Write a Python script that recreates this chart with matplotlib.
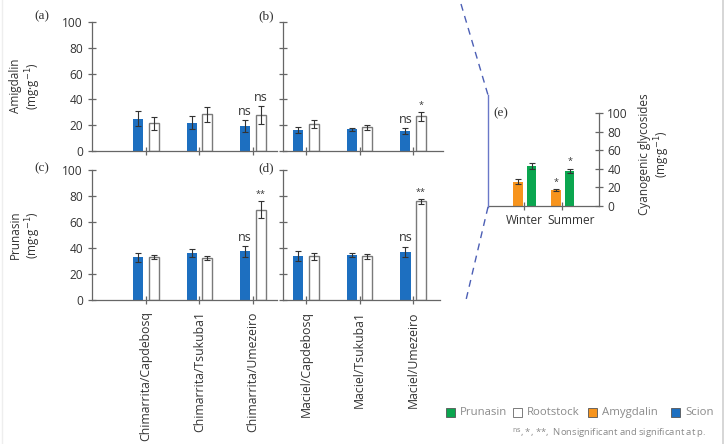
import matplotlib
matplotlib.use("Agg")
import matplotlib.pyplot as plt
from matplotlib.lines import Line2D
from matplotlib.patches import Rectangle
import matplotlib.transforms as mtransforms
import numpy as np

plt.rcParams['font.family'] = ['Open Sans', 'DejaVu Sans']

# ---------------- data ----------------
chim_labels = ["Chimarrita/Capdebosq", "Chimarrita/Tsukuba1", "Chimarrita/Umezeiro"]
mac_labels = ["Maciel/Capdebosq", "Maciel/Tsukuba1", "Maciel/Umezeiro"]

# (a) Amygdalin, Chimarrita
a_scion = [25, 22, 19.3]
a_scion_err = [6, 5, 4.5]
a_root = [21.4, 28.4, 27.8]
a_root_err = [5, 6, 7]
# (b) Amygdalin, Maciel
b_scion = [16.2, 16.8, 15.5]
b_scion_err = [2.5, 1, 2]
b_root = [20.9, 18.5, 27]
b_root_err = [3, 2, 3.5]
# (c) Prunasin, Chimarrita
c_scion = [33, 36, 37.4]
c_scion_err = [3.5, 3, 4]
c_root = [33.2, 32, 69.6]
c_root_err = [1.5, 1.5, 6.5]
# (d) Prunasin, Maciel
d_scion = [33.8, 34.9, 37]
d_scion_err = [4, 1.5, 4]
d_root = [33.6, 33.6, 76]
d_root_err = [2.5, 2, 2]
# significance marks on third pair: (scion mark, rootstock mark)
a_marks = ["ns", "ns"]
b_marks = ["ns", "*"]
c_marks = ["ns", "**"]
d_marks = ["ns", "**"]

# (e) seasons
seasons = ["Winter", "Summer"]
e_amyg = [26, 17]
e_amyg_err = [2.5, 1]
e_prun = [43, 38]
e_prun_err = [3, 2]
e_amyg_marks = ["", "*"]
e_prun_marks = ["", "*"]

yticks = [0, 20, 40, 60, 80, 100]

# ---------------- style ----------------
BLUE = "#1d6fc0"
ORANGE = "#f7941d"
GREEN = "#0ba64f"
SPINE = "#666666"
ERR = "#333333"
TXT = "#333333"
TICKFS = 8.6

W, H = 725, 444
fig = plt.figure(figsize=(W / 100, H / 100), dpi=100)
fig.patch.set_facecolor("white")


def fx(px):
    return px / W


def fy(py):
    return 1 - py / H


def make_ax(left, right, top, bottom):
    return fig.add_axes([fx(left), fy(bottom), fx(right - left), (bottom - top) / H])


def style_ax(ax, show_ylabels):
    for s in ["top", "right"]:
        ax.spines[s].set_visible(False)
    for s in ["left", "bottom"]:
        ax.spines[s].set_color(SPINE)
        ax.spines[s].set_linewidth(0.9)
    ax.set_ylim(0, 100)
    ax.set_yticks(yticks)
    ax.tick_params(axis="both", direction="inout", length=6, width=0.9,
                   color=SPINE, labelsize=TICKFS, labelcolor=TXT)
    if not show_ylabels:
        ax.set_yticklabels([])
    ax.set_xticks([0, 1, 2])
    ax.set_facecolor("none")


def draw_pair(ax, scion, scion_err, root, root_err, marks):
    x = np.arange(len(scion))
    off, w = 0.145, 0.19
    ekw = dict(ecolor=ERR, elinewidth=0.8, capsize=2.4, capthick=0.8)
    ax.bar(x - off, scion, w, color=BLUE, yerr=scion_err, error_kw=ekw, zorder=2)
    ax.bar(x + off, root, w, color="white", edgecolor="#7a7a7a", linewidth=1.0,
           yerr=root_err, error_kw=ekw, zorder=2)
    for xi, val, err, m in [(x[2] - off, scion[2], scion_err[2], marks[0]),
                            (x[2] + off, root[2], root_err[2], marks[1])]:
        if m == "ns":
            ax.text(xi, val + err + 2, m, ha="center", va="bottom", fontsize=9, color=TXT)
        else:
            ax.text(xi, val + err + 1.5, m, ha="center", va="bottom", fontsize=6.5, color=TXT)


# panel positions in pixels
axA = make_ax(92, 277, 22, 151)
axB = make_ax(283, 443, 22, 151)
axC = make_ax(92, 277, 170, 300)
axD = make_ax(283, 440, 170, 300)

for ax, show in [(axA, True), (axB, False), (axC, True), (axD, False)]:
    style_ax(ax, show)

draw_pair(axA, a_scion, a_scion_err, a_root, a_root_err, a_marks)
draw_pair(axB, b_scion, b_scion_err, b_root, b_root_err, b_marks)
draw_pair(axC, c_scion, c_scion_err, c_root, c_root_err, c_marks)
draw_pair(axD, d_scion, d_scion_err, d_root, d_root_err, d_marks)

axA.set_xlim(-1.01, 2.45)
axC.set_xlim(-1.01, 2.45)
axB.set_xlim(-0.43, 2.56)
axD.set_xlim(-0.43, 2.5)

axA.set_xticklabels([])
axB.set_xticklabels([])
axC.set_xticklabels(chim_labels, rotation=90, fontsize=8.8)
axD.set_xticklabels(mac_labels, rotation=90, fontsize=8.8)
for ax in (axC, axD):
    ax.tick_params(axis="x", pad=5)

fig.text(fx(26), fy(86), "Amigdalin\n(mg·g$^{-1}$)", rotation=90, ha="center", va="center",
         fontsize=8.5, color=TXT, linespacing=1.1)
fig.text(fx(26), fy(235), "Prunasin\n(mg·g$^{-1}$)", rotation=90, ha="center", va="center",
         fontsize=8.5, color=TXT, linespacing=1.1)

serif = ["Liberation Serif", "DejaVu Serif"]
for lbl, (px, py) in {"(a)": (42, 16), "(b)": (266, 16), "(c)": (42, 168), "(d)": (266, 168),
                      "(e)": (501, 113)}.items():
    fig.text(fx(px), fy(py), lbl, ha="center", va="center", fontsize=9.5,
             family=serif, color=TXT)

# ---------------- panel (e) ----------------
axE = make_ax(488, 599, 113, 206)
axE.set_facecolor("none")
for s in ["top", "left"]:
    axE.spines[s].set_visible(False)
for s in ["right", "bottom"]:
    axE.spines[s].set_color(SPINE)
    axE.spines[s].set_linewidth(0.9)
axE.yaxis.tick_right()
xe = np.arange(len(seasons))
ekw = dict(ecolor=ERR, elinewidth=0.8, capsize=2.0, capthick=0.8)
axE.bar(xe - 0.17, e_amyg, 0.26, color=ORANGE, yerr=e_amyg_err, error_kw=ekw, zorder=2)
axE.bar(xe + 0.2, e_prun, 0.25, color=GREEN, yerr=e_prun_err, error_kw=ekw, zorder=2)
for i in range(len(seasons)):
    if e_amyg_marks[i]:
        axE.text(xe[i] - 0.17, e_amyg[i] + e_amyg_err[i] + 3, e_amyg_marks[i],
                 ha="center", va="bottom", fontsize=6.5, color=TXT)
    if e_prun_marks[i]:
        axE.text(xe[i] + 0.2, e_prun[i] + e_prun_err[i] + 3, e_prun_marks[i],
                 ha="center", va="bottom", fontsize=6.5, color=TXT)
axE.set_ylim(0, 100)
axE.set_xlim(-0.95, 1.97)
axE.set_yticks(yticks)
axE.set_xticks(xe)
axE.set_xticklabels(seasons)
axE.tick_params(axis="both", direction="inout", length=6, width=0.9, color=SPINE,
                labelsize=TICKFS, labelcolor=TXT)
axE.tick_params(axis="x", labelsize=8.6, pad=3)
axE.tick_params(axis="y", pad=3)
# shift Summer label slightly to the right, as in the reference
summer_lbl = axE.get_xticklabels()[1]
summer_lbl.set_transform(summer_lbl.get_transform() +
                         mtransforms.ScaledTranslation(9 / 100, 0, fig.dpi_scale_trans))
fig.text(fx(655), fy(154), "Cyanogenic glycosides\n(mg·g$^{-1}$)", rotation=90,
         ha="center", va="center", fontsize=8.5, color=TXT, linespacing=1.1)

# connector lines
DASH = "#4c5fb5"
fig.add_artist(Line2D([fx(461), fx(488)], [fy(4), fy(95)], color=DASH, lw=1.0,
                      ls=(0, (5, 4)), transform=fig.transFigure))
fig.add_artist(Line2D([fx(488), fx(488)], [fy(95), fy(207)], color="#6a78c8", lw=1.0,
                      transform=fig.transFigure))
fig.add_artist(Line2D([fx(488), fx(466)], [fy(207), fy(300)], color=DASH, lw=1.0,
                      ls=(0, (5, 4)), transform=fig.transFigure))

# border lines
fig.add_artist(Line2D([fx(722.5), fx(722.5)], [0, 1], color="#cfcfcf", lw=1.2,
                      transform=fig.transFigure))
fig.add_artist(Line2D([fx(1.5), fx(1.5)], [0, 1], color="#eeeeee", lw=1.0,
                      transform=fig.transFigure))

# ---------------- legend ----------------
legend_items = [("Prunasin", GREEN, 446),
                ("Rootstock", "white", 513),
                ("Amygdalin", ORANGE, 588),
                ("Scion", BLUE, 671)]
LG = "#8a8a8a"
for name, fc, px in legend_items:
    fig.add_artist(Rectangle((fx(px), fy(416.5)), fx(9), 9 / H, facecolor=fc,
                             edgecolor="#666666" if fc == "white" else "#555555",
                             lw=0.6, transform=fig.transFigure))
    fig.text(fx(px + 14), fy(412), name, ha="left", va="center", fontsize=8.2, color=LG)

fig.text(fx(512), fy(433), r"$^{\mathrm{ns}}$, *, **,  Nonsignificant and significant at p.",
         ha="left", va="center", fontsize=6.8, color=LG)

fig.savefig("out.png", dpi=100, facecolor="white")
